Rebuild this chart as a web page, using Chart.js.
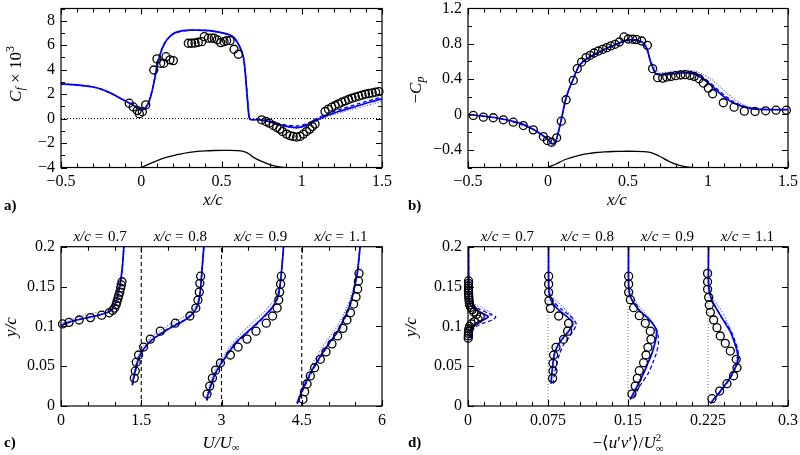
<!DOCTYPE html>
<html><head><meta charset="utf-8">
<script src="https://cdn.jsdelivr.net/npm/chart.js@4.4.1/dist/chart.umd.min.js"></script>
<style>
html,body{margin:0;padding:0;background:#fff;}
#wrap{position:relative;width:800px;height:455px;overflow:hidden;}
canvas{position:absolute;left:0;top:0;}
</style></head><body>
<div id="wrap">
<canvas id="ca" width="800" height="455"></canvas>
<canvas id="cb" width="800" height="455"></canvas>
<canvas id="cc" width="800" height="455"></canvas>
<canvas id="cd" width="800" height="455"></canvas>
</div>
<script>
// ---------------- DATA ----------------
// panel a: skin friction Cf x 10^3 vs x/c
const cfExp = [[-0.075,1.26],[-0.05,0.95],[-0.025,0.66],[-0.012,0.4],[0.007,0.56],[0.028,1.12],
 [0.078,3.97],[0.098,4.88],[0.121,4.52],[0.14,4.52],[0.154,5.06],[0.179,4.8],[0.2,4.74],
 [0.293,6.16],[0.314,6.16],[0.335,6.18],[0.355,6.24],[0.377,6.29],[0.393,6.7],[0.418,6.57],[0.439,6.57],[0.455,6.57],[0.474,6.44],[0.495,6.21],[0.516,6.29],[0.532,6.37],[0.553,6.37],[0.578,5.67],[0.605,5.26],
 [0.75,-0.1],[0.777,-0.24],[0.798,-0.37],[0.823,-0.57],[0.844,-0.73],[0.864,-0.86],[0.88,-1.06],[0.906,-1.27],[0.927,-1.4],[0.947,-1.46],[0.968,-1.51],[0.989,-1.46],[1.01,-1.27],[1.03,-1.06],[1.05,-0.86],[1.066,-0.65],[1.083,-0.45],
 [1.145,0.58],[1.166,0.77],[1.187,0.93],[1.208,1.07],[1.229,1.2],[1.25,1.34],[1.271,1.45],[1.292,1.56],[1.313,1.67],[1.334,1.75],[1.355,1.83],[1.376,1.91],[1.397,2.0],[1.418,2.05],[1.439,2.1],[1.46,2.16],[1.481,2.21]];
const cfSolid = [[-0.5,2.84],[-0.4,2.76],[-0.3,2.58],[-0.25,2.42],[-0.2,2.15],[-0.15,1.8],[-0.1,1.45],[-0.05,1.1],[-0.02,0.85],[0,0.72],[0.02,0.8],[0.04,1.15],[0.06,1.85],[0.08,3.0],[0.1,4.4],[0.12,5.35],[0.14,6.0],[0.16,6.45],[0.2,6.95],[0.25,7.17],[0.3,7.23],[0.35,7.24],[0.4,7.21],[0.45,7.15],[0.5,7.03],[0.55,6.85],[0.58,6.6],[0.6,6.2],[0.62,5.7],[0.635,5.1],[0.645,4.2],[0.655,2.6],[0.665,1.0],[0.672,0.1],[0.68,-0.08],[0.74,-0.1],[0.8,-0.25],[0.85,-0.45],[0.9,-0.62],[0.95,-0.72],[0.98,-0.73],[1.02,-0.58],[1.06,-0.35],[1.1,-0.08],[1.15,0.22],[1.2,0.45],[1.25,0.65],[1.3,0.85],[1.35,1.05],[1.4,1.25],[1.45,1.43],[1.5,1.62]];
const cfDashed = [[-0.5,2.84],[-0.3,2.6],[-0.2,2.12],[-0.1,1.46],[-0.05,1.1],[0,0.74],[0.02,0.82],[0.04,1.17],[0.06,1.9],[0.08,3.05],[0.1,4.45],[0.12,5.4],[0.14,6.02],[0.16,6.45],[0.2,6.93],[0.25,7.15],[0.3,7.21],[0.4,7.2],[0.5,7.02],[0.55,6.84],[0.58,6.6],[0.6,6.22],[0.62,5.72],[0.635,5.15],[0.645,4.3],[0.655,2.7],[0.665,1.1],[0.672,0.15],[0.68,-0.06],[0.74,-0.08],[0.8,-0.2],[0.85,-0.38],[0.9,-0.53],[0.95,-0.6],[0.98,-0.6],[1.02,-0.46],[1.06,-0.22],[1.1,0.05],[1.15,0.35],[1.2,0.58],[1.25,0.8],[1.3,1.0],[1.35,1.2],[1.4,1.4],[1.45,1.58],[1.5,1.76]];
const cfDotted = [[-0.5,2.82],[-0.3,2.56],[-0.2,2.08],[-0.1,1.42],[-0.05,1.06],[0,0.7],[0.02,0.78],[0.04,1.12],[0.06,1.8],[0.08,2.95],[0.1,4.3],[0.12,5.3],[0.14,5.95],[0.16,6.4],[0.2,6.9],[0.25,7.12],[0.3,7.2],[0.4,7.18],[0.5,7.0],[0.55,6.8],[0.58,6.55],[0.6,6.15],[0.62,5.6],[0.635,4.95],[0.645,4.0],[0.66,2.4],[0.668,0.9],[0.676,0.05],[0.685,-0.1],[0.74,-0.12],[0.8,-0.27],[0.85,-0.5],[0.9,-0.68],[0.95,-0.77],[0.98,-0.78],[1.02,-0.66],[1.06,-0.45],[1.1,-0.18],[1.15,0.12],[1.2,0.33],[1.25,0.52],[1.3,0.7],[1.35,0.88],[1.4,1.05],[1.45,1.22],[1.5,1.4]];
const cfHump = [[-0.03,-4.15],[0,-4.0],[0.05,-3.7],[0.1,-3.43],[0.15,-3.2],[0.2,-3.02],[0.25,-2.88],[0.3,-2.77],[0.35,-2.69],[0.4,-2.64],[0.45,-2.61],[0.5,-2.6],[0.55,-2.6],[0.6,-2.62],[0.63,-2.67],[0.66,-2.8],[0.68,-2.97],[0.7,-3.17],[0.75,-3.5],[0.8,-3.76],[0.85,-3.92],[0.9,-4.02],[0.95,-4.08]];
const cfZero = [[-0.5,0],[1.5,0]];

// panel b: -Cp vs x/c
const cpExp = [[-0.467,-0.011],[-0.404,-0.03],[-0.342,-0.037],[-0.279,-0.06],[-0.217,-0.087],[-0.154,-0.125],[-0.092,-0.174],[-0.029,-0.25],[-0.004,-0.295],[0.023,-0.314],[0.054,-0.264],[0.083,-0.076],[0.113,0.167],[0.158,0.386],[0.183,0.519],[0.21,0.594],[0.238,0.644],[0.263,0.67],[0.288,0.696],[0.315,0.719],[0.342,0.738],[0.367,0.757],[0.392,0.776],[0.419,0.795],[0.446,0.821],[0.475,0.878],[0.502,0.855],[0.529,0.852],[0.554,0.848],[0.585,0.832],[0.621,0.783],[0.654,0.519],[0.685,0.417],[0.717,0.412],[0.742,0.424],[0.769,0.432],[0.798,0.44],[0.829,0.447],[0.858,0.451],[0.888,0.443],[0.914,0.432],[0.944,0.405],[0.971,0.356],[1.002,0.299],[1.029,0.235],[1.096,0.133],[1.163,0.083],[1.227,0.038],[1.294,0.034],[1.36,0.042],[1.425,0.049],[1.49,0.049]];
const cpSolid = [[-0.5,0.0],[-0.4,-0.02],[-0.3,-0.045],[-0.2,-0.085],[-0.15,-0.115],[-0.1,-0.16],[-0.05,-0.215],[0,-0.285],[0.02,-0.325],[0.035,-0.33],[0.05,-0.3],[0.07,-0.16],[0.09,0.0],[0.11,0.17],[0.13,0.28],[0.16,0.41],[0.19,0.54],[0.22,0.6],[0.26,0.65],[0.3,0.69],[0.35,0.735],[0.4,0.775],[0.45,0.815],[0.5,0.845],[0.55,0.845],[0.59,0.82],[0.62,0.74],[0.64,0.6],[0.655,0.53],[0.67,0.47],[0.69,0.45],[0.75,0.455],[0.8,0.465],[0.85,0.475],[0.9,0.465],[0.95,0.425],[1.0,0.36],[1.05,0.28],[1.1,0.2],[1.15,0.14],[1.2,0.1],[1.25,0.075],[1.3,0.06],[1.4,0.055],[1.5,0.055]];
const cpDashed = [[-0.5,0.0],[-0.3,-0.045],[-0.1,-0.16],[0,-0.285],[0.02,-0.325],[0.035,-0.33],[0.05,-0.3],[0.07,-0.16],[0.09,0.0],[0.11,0.17],[0.13,0.28],[0.16,0.41],[0.19,0.54],[0.22,0.6],[0.3,0.69],[0.4,0.775],[0.5,0.84],[0.55,0.838],[0.59,0.81],[0.62,0.73],[0.64,0.6],[0.655,0.53],[0.67,0.475],[0.69,0.455],[0.75,0.46],[0.8,0.472],[0.85,0.483],[0.9,0.475],[0.95,0.44],[1.0,0.38],[1.05,0.3],[1.1,0.22],[1.15,0.155],[1.2,0.11],[1.25,0.08],[1.3,0.062],[1.4,0.055],[1.5,0.055]];
const cpDotted = [[-0.5,0.0],[-0.3,-0.045],[-0.1,-0.16],[0,-0.28],[0.02,-0.32],[0.035,-0.325],[0.05,-0.3],[0.07,-0.16],[0.09,0.0],[0.11,0.17],[0.13,0.28],[0.16,0.41],[0.19,0.54],[0.22,0.6],[0.3,0.685],[0.4,0.77],[0.5,0.83],[0.55,0.82],[0.59,0.78],[0.62,0.71],[0.64,0.62],[0.66,0.55],[0.68,0.49],[0.7,0.475],[0.75,0.48],[0.8,0.49],[0.87,0.5],[0.92,0.49],[0.97,0.455],[1.02,0.4],[1.07,0.32],[1.12,0.24],[1.17,0.165],[1.22,0.11],[1.28,0.075],[1.35,0.06],[1.5,0.055]];
const cpHump = [[-0.02,-0.62],[0,-0.6],[0.05,-0.56],[0.1,-0.515],[0.15,-0.485],[0.2,-0.46],[0.25,-0.443],[0.3,-0.43],[0.35,-0.424],[0.4,-0.419],[0.45,-0.417],[0.5,-0.416],[0.55,-0.417],[0.6,-0.42],[0.63,-0.426],[0.66,-0.443],[0.7,-0.475],[0.75,-0.525],[0.8,-0.565],[0.85,-0.588],[0.9,-0.6],[0.95,-0.61]];

// stations, offsets (panel c: U/Uinf shifted by 1.5; panel d: -<u'v'> shifted by 0.075)
const stations = ['0.7','0.8','0.9','1.1'];
const uOffsets = [0, 1.5, 3, 4.5];
const uvOffsets = [0, 0.075, 0.15, 0.225];

// panel c: plotted (shifted) U/Uinf vs y/c
const uExp07 = [[0.03,0.103],[0.15,0.105],[0.34,0.108],[0.55,0.111],[0.76,0.114],[0.9,0.117],[0.965,0.12],[1.0,0.123],[1.03,0.127],[1.046,0.131],[1.065,0.135],[1.08,0.139],[1.1,0.143],[1.115,0.148],[1.127,0.152],[1.14,0.156]];
const uExp08 = [[1.37,0.035],[1.389,0.044],[1.407,0.055],[1.45,0.064],[1.544,0.074],[1.67,0.084],[1.856,0.094],[2.136,0.104],[2.41,0.113],[2.52,0.123],[2.56,0.133],[2.585,0.143],[2.595,0.154],[2.61,0.163]];
const uExp09 = [[2.73,0.015],[2.78,0.025],[2.83,0.035],[2.89,0.045],[2.98,0.054],[3.165,0.064],[3.31,0.074],[3.477,0.084],[3.645,0.094],[3.837,0.104],[3.955,0.113],[4.04,0.123],[4.07,0.133],[4.086,0.143],[4.105,0.153],[4.118,0.163]];
const uExp11 = [[4.523,0.0084],[4.554,0.018],[4.6,0.0276],[4.66,0.0377],[4.74,0.048],[4.847,0.0586],[4.953,0.068],[5.065,0.078],[5.17,0.088],[5.27,0.0975],[5.345,0.108],[5.41,0.117],[5.47,0.128],[5.514,0.137],[5.545,0.147],[5.56,0.157],[5.57,0.1665]];
const uSolid07 = [[0,0.101],[0.1,0.104],[0.3,0.108],[0.5,0.111],[0.7,0.114],[0.85,0.117],[0.95,0.121],[1.02,0.13],[1.07,0.142],[1.11,0.155],[1.14,0.17],[1.16,0.185],[1.175,0.2]];
const uDashed07 = [[0,0.101],[0.1,0.104],[0.3,0.108],[0.5,0.111],[0.7,0.114],[0.85,0.117],[0.95,0.12],[1.02,0.129],[1.07,0.141],[1.11,0.155],[1.14,0.17],[1.16,0.185],[1.175,0.2]];
const uDotted07 = [[0,0.102],[0.1,0.106],[0.3,0.111],[0.5,0.115],[0.7,0.118],[0.85,0.12],[0.95,0.123],[1.02,0.131],[1.07,0.143],[1.11,0.156],[1.14,0.17],[1.16,0.185],[1.175,0.2]];
const uSolid08 = [[1.33,0.026],[1.38,0.042],[1.42,0.053],[1.47,0.063],[1.55,0.072],[1.7,0.083],[1.9,0.092],[2.1,0.1],[2.3,0.107],[2.45,0.115],[2.54,0.124],[2.58,0.133],[2.61,0.148],[2.635,0.17],[2.67,0.2]];
const uDashed08 = [[1.34,0.027],[1.39,0.043],[1.43,0.054],[1.48,0.064],[1.56,0.073],[1.71,0.084],[1.9,0.093],[2.1,0.101],[2.3,0.108],[2.45,0.116],[2.54,0.125],[2.58,0.134],[2.61,0.149],[2.635,0.17],[2.67,0.2]];
const uDotted08 = [[1.33,0.029],[1.37,0.045],[1.41,0.057],[1.47,0.067],[1.55,0.076],[1.7,0.087],[1.9,0.097],[2.1,0.105],[2.3,0.112],[2.45,0.12],[2.53,0.128],[2.58,0.137],[2.61,0.15],[2.635,0.17],[2.67,0.2]];
const uSolid09 = [[2.72,0.007],[2.77,0.02],[2.83,0.032],[2.9,0.043],[3.0,0.054],[3.12,0.066],[3.26,0.079],[3.45,0.091],[3.63,0.102],[3.8,0.113],[3.95,0.124],[4.04,0.135],[4.08,0.146],[4.11,0.16],[4.13,0.175],[4.16,0.2]];
const uDashed09 = [[2.73,0.007],[2.78,0.02],[2.84,0.032],[2.91,0.043],[3.01,0.054],[3.13,0.066],[3.28,0.079],[3.47,0.091],[3.65,0.102],[3.82,0.113],[3.96,0.124],[4.05,0.135],[4.09,0.146],[4.11,0.16],[4.13,0.175],[4.16,0.2]];
const uDotted09 = [[2.72,0.01],[2.77,0.024],[2.83,0.037],[2.9,0.048],[3.0,0.059],[3.12,0.071],[3.26,0.083],[3.43,0.095],[3.6,0.106],[3.78,0.117],[3.93,0.128],[4.03,0.138],[4.08,0.149],[4.11,0.162],[4.13,0.177],[4.16,0.2]];
const uSolid11 = [[4.41,0.003],[4.47,0.013],[4.535,0.024],[4.61,0.034],[4.69,0.045],[4.78,0.055],[4.88,0.066],[4.99,0.077],[5.1,0.087],[5.2,0.097],[5.28,0.108],[5.35,0.118],[5.41,0.129],[5.46,0.141],[5.5,0.154],[5.54,0.167],[5.56,0.179],[5.59,0.2]];
const uDashed11 = [[4.42,0.003],[4.48,0.013],[4.55,0.024],[4.625,0.034],[4.705,0.045],[4.795,0.055],[4.895,0.066],[5.0,0.077],[5.11,0.087],[5.21,0.097],[5.29,0.108],[5.36,0.118],[5.42,0.129],[5.465,0.141],[5.5,0.154],[5.54,0.167],[5.56,0.179],[5.59,0.2]];
const uDotted11 = [[4.41,0.005],[4.46,0.015],[4.52,0.026],[4.59,0.037],[4.66,0.048],[4.75,0.059],[4.85,0.07],[4.96,0.081],[5.07,0.091],[5.17,0.101],[5.26,0.112],[5.33,0.122],[5.4,0.133],[5.45,0.145],[5.5,0.157],[5.54,0.17],[5.56,0.182],[5.59,0.2]];

// panel d: plotted (shifted) -<u'v'>/Uinf^2 vs y/c
const uvExp07 = [[0.0005,0.157],[0.0005,0.154],[0.0005,0.151],[0.0005,0.148],[0.0005,0.145],[0.0005,0.142],[0.0007,0.139],[0.0008,0.136],[0.001,0.133],[0.0012,0.13],[0.0015,0.127],[0.0025,0.124],[0.004,0.121],[0.0055,0.118],[0.008,0.115],[0.0115,0.112],[0.0095,0.109],[0.006,0.106],[0.003,0.103],[0.0015,0.1],[0.0008,0.097],[0.0005,0.094],[0.0004,0.091],[0.0003,0.088],[0.0002,0.085]];
const uvExp08 = [[0.0756,0.163],[0.0756,0.153],[0.0756,0.1427],[0.0759,0.132],[0.0772,0.1226],[0.085,0.113],[0.0943,0.1038],[0.0934,0.094],[0.0896,0.0837],[0.0825,0.0737],[0.0803,0.064],[0.0797,0.0536],[0.0797,0.044],[0.0793,0.0347]];
const uvExp09 = [[0.1506,0.163],[0.1506,0.153],[0.1506,0.1427],[0.1522,0.1335],[0.1553,0.1234],[0.1606,0.1134],[0.1662,0.1038],[0.1709,0.094],[0.1715,0.0837],[0.1687,0.0737],[0.1669,0.064],[0.1646,0.0544],[0.1606,0.0443],[0.1587,0.0347],[0.1568,0.025],[0.1537,0.015]];
const uvExp11 = [[0.2246,0.1665],[0.2246,0.156],[0.2246,0.1465],[0.2256,0.1364],[0.2262,0.1268],[0.2272,0.1176],[0.2303,0.108],[0.2334,0.0983],[0.2365,0.0879],[0.2412,0.0787],[0.2459,0.069],[0.2515,0.0586],[0.2522,0.048],[0.249,0.038],[0.2428,0.028],[0.2359,0.0188],[0.2287,0.0092]];
const uvSolid07 = [[0.0005,0.2],[0.0008,0.14],[0.0015,0.13],[0.004,0.124],[0.01,0.119],[0.017,0.114],[0.019,0.112],[0.016,0.109],[0.009,0.105],[0.004,0.1],[0.002,0.095],[0.0015,0.09],[0.002,0.085]];
const uvDashed07 = [[0.0005,0.2],[0.001,0.135],[0.003,0.128],[0.01,0.122],[0.02,0.116],[0.026,0.112],[0.023,0.108],[0.014,0.104],[0.007,0.099],[0.004,0.094],[0.004,0.088],[0.004,0.085]];
const uvDotted07 = [[0.0005,0.2],[0.001,0.138],[0.004,0.13],[0.012,0.124],[0.019,0.119],[0.022,0.116],[0.019,0.112],[0.011,0.107],[0.005,0.102],[0.003,0.096],[0.002,0.09],[0.002,0.086]];
const uvSolid08 = [[0.0755,0.2],[0.0756,0.15],[0.0765,0.138],[0.079,0.13],[0.084,0.122],[0.091,0.114],[0.097,0.107],[0.098,0.102],[0.095,0.095],[0.09,0.087],[0.085,0.078],[0.081,0.066],[0.0795,0.052],[0.0785,0.04],[0.078,0.028]];
const uvDashed08 = [[0.0755,0.2],[0.0757,0.15],[0.077,0.138],[0.081,0.13],[0.087,0.122],[0.095,0.114],[0.1,0.107],[0.1015,0.102],[0.099,0.095],[0.095,0.087],[0.09,0.078],[0.086,0.066],[0.083,0.052],[0.081,0.04],[0.08,0.028]];
const uvDotted08 = [[0.0755,0.2],[0.0758,0.15],[0.078,0.14],[0.083,0.132],[0.089,0.124],[0.095,0.116],[0.099,0.108],[0.099,0.102],[0.096,0.095],[0.091,0.087],[0.086,0.078],[0.082,0.066],[0.08,0.052],[0.079,0.04],[0.078,0.03]];
const uvSolid09 = [[0.1505,0.2],[0.1506,0.15],[0.152,0.138],[0.156,0.128],[0.162,0.118],[0.169,0.11],[0.175,0.1],[0.177,0.093],[0.176,0.083],[0.1725,0.066],[0.169,0.055],[0.166,0.045],[0.16,0.0285],[0.152,0.008]];
const uvDashed09 = [[0.1505,0.2],[0.1506,0.15],[0.152,0.138],[0.156,0.128],[0.162,0.118],[0.17,0.108],[0.176,0.098],[0.178,0.09],[0.1785,0.078],[0.1765,0.066],[0.1735,0.055],[0.169,0.041],[0.162,0.027],[0.154,0.008]];
const uvDotted09 = [[0.1505,0.2],[0.1508,0.15],[0.154,0.138],[0.159,0.128],[0.165,0.118],[0.171,0.108],[0.175,0.098],[0.176,0.09],[0.175,0.08],[0.172,0.066],[0.168,0.055],[0.164,0.043],[0.159,0.028],[0.152,0.008]];
const uvSolid11 = [[0.2255,0.2],[0.2256,0.15],[0.228,0.135],[0.2318,0.1247],[0.237,0.113],[0.2412,0.1038],[0.246,0.093],[0.249,0.083],[0.2515,0.073],[0.2531,0.064],[0.2525,0.055],[0.2495,0.045],[0.2443,0.0326],[0.235,0.016],[0.2272,0.0034]];
const uvDashed11 = [[0.2255,0.2],[0.2256,0.15],[0.228,0.135],[0.232,0.1247],[0.237,0.113],[0.242,0.1038],[0.247,0.093],[0.25,0.083],[0.2525,0.073],[0.2535,0.064],[0.253,0.055],[0.25,0.045],[0.245,0.033],[0.2355,0.016],[0.2275,0.003]];
const uvDotted11 = [[0.2255,0.2],[0.226,0.15],[0.23,0.135],[0.235,0.125],[0.24,0.114],[0.2435,0.104],[0.247,0.093],[0.249,0.083],[0.251,0.073],[0.252,0.064],[0.251,0.055],[0.249,0.045],[0.2445,0.033],[0.235,0.016],[0.227,0.003]];

// tick values and labels
const aXTicks = [-0.5,0,0.5,1,1.5], aXLabels = ['\u22120.5','0','0.5','1','1.5'];
const aYTicks = [-4,-2,0,2,4,6,8], aYLabels = ['\u22124','\u22122','0','2','4','6','8'];
const bYTicks = [-0.4,0,0.4,0.8,1.2], bYLabels = ['\u22120.4','0','0.4','0.8','1.2'];
const cXTicks = [0,1.5,3,4.5,6], cXLabels = ['0','1.5','3','4.5','6'];
const cYTicks = [0,0.05,0.1,0.15,0.2], cYLabels = ['0','0.05','0.1','0.15','0.2'];
const dXTicks = [0,0.075,0.15,0.225,0.3], dXLabels = ['0','0.075','0.15','0.225','0.3'];

// ---------------- RENDERING ----------------
const FAM = '"Liberation Serif", "DejaVu Serif", serif';
Chart.defaults.font.family = FAM;
Chart.defaults.font.size = 16;
Chart.defaults.color = '#000';
const BLUE = 'rgb(0,0,250)';

function P(arr){ return arr.map(p=>({x:p[0], y:p[1]})); }
function circles(arr){ return {data:P(arr), showLine:false, pointStyle:'circle', pointRadius:4, pointHoverRadius:4,
  pointBorderColor:'#000', pointBackgroundColor:'rgba(0,0,0,0)', pointBorderWidth:1.3, borderColor:'#000', order:0, clip:8}; }
function blue(arr, kind){
  const d = {data:P(arr), showLine:true, pointRadius:0, borderColor:BLUE, fill:false, tension:0.25, clip:0, order:2};
  if(kind==='solid'){ d.borderWidth=1.7; d.order=1; }
  else if(kind==='dashed'){ d.borderWidth=1.3; d.borderDash=[4,2.5]; }
  else { d.borderWidth=1.2; d.borderDash=[1,1.6]; d.borderColor='rgba(50,50,255,0.85)'; }
  return d;
}
function ref(arr, dash, color, w, tension){ return {data:P(arr), showLine:true, pointRadius:0, borderColor:color, borderWidth:w, borderDash:dash, tension:tension||0, clip:0, order:4}; }

function axis(min, max, ticks, labels, isX, fit, pad){
  return { type:'linear', min:min, max:max,
    grid:{display:false, drawTicks:false}, border:{display:false},
    ticks:{autoSkip:false, maxRotation:0, minRotation:0, padding:pad, color:'#000', font:{size:16, family:FAM},
      callback:(v,i)=>labels[i]},
    afterBuildTicks: s=>{ s.ticks = ticks.map(v=>({value:v})); },
    afterFit: s=>{ if(isX) s.height=fit; else s.width=fit; s.paddingLeft=0; s.paddingRight=0; s.paddingTop=0; s.paddingBottom=0; }
  };
}

function framePlugin(cfg){
  return { id:'frame', afterDatasetsDraw(chart){
    const {ctx, chartArea:a, scales:{x,y}} = chart;
    ctx.save(); ctx.strokeStyle='#000'; ctx.lineWidth=1.1; ctx.setLineDash([]);
    const isMaj=(list,v)=>list.some(m=>Math.abs(m-v)<1e-7);
    const nx=Math.round((x.max-x.min)/cfg.xStep);
    ctx.beginPath();
    for(let i=0;i<=nx;i++){ const v=x.min+i*cfg.xStep; const L=isMaj(cfg.xMaj,v)?6:4; const px=Math.round(x.getPixelForValue(v))+0.5;
      ctx.moveTo(px,a.bottom); ctx.lineTo(px,a.bottom-L); ctx.moveTo(px,a.top); ctx.lineTo(px,a.top+L); }
    const ny=Math.round((y.max-y.min)/cfg.yStep);
    for(let i=0;i<=ny;i++){ const v=y.min+i*cfg.yStep; const L=isMaj(cfg.yMaj,v)?6:4; const py=Math.round(y.getPixelForValue(v))+0.5;
      ctx.moveTo(a.left,py); ctx.lineTo(a.left+L,py); ctx.moveTo(a.right,py); ctx.lineTo(a.right-L,py); }
    ctx.stroke();
    ctx.lineWidth=1.2;
    ctx.strokeRect(a.left,a.top,a.right-a.left,a.bottom-a.top);
    ctx.restore();
  }};
}
function fontOf(r){ return (r.i?'italic ':'')+(r.b?'bold ':'')+(r.s||16)+'px '+FAM; }
function drawRich(ctx, it){
  ctx.save(); ctx.fillStyle='#000'; ctx.textBaseline='alphabetic'; ctx.textAlign='left';
  const ws=[]; let w=0;
  it.runs.forEach(r=>{ ctx.font=fontOf(r); const m=ctx.measureText(r.t).width; ws.push(m); if(!r.na) w+=m+(r.sp||0); });
  ctx.translate(it.x, it.y); if(it.rot) ctx.rotate(it.rot);
  let cx = it.align==='left' ? 0 : -w/2;
  it.runs.forEach((r,k)=>{ ctx.font=fontOf(r); ctx.fillText(r.t, cx, r.dy||0); if(!r.na) cx+=ws[k]+(r.sp||0); });
  ctx.restore();
}
function richPlugin(items, headers){
  return { id:'rich', afterDraw(chart){
    const ctx=chart.ctx;
    items.forEach(it=>drawRich(ctx,it));
    if(headers){
      headers.offsets.forEach((o,k)=>{
        const px=chart.scales.x.getPixelForValue(o+headers.shift);
        drawRich(ctx,{x:px, y:headers.y, runs:[{t:'x/c',i:1,s:15},{t:' = ',s:15,sp:1},{t:stations[k],s:15}]});
      });
    }
  }};
}

function panel(id, o){
  new Chart(document.getElementById(id), {
    type:'scatter',
    data:{datasets:o.datasets},
    options:{ responsive:false, animation:false, devicePixelRatio:1, events:[],
      layout:{padding:o.pad},
      plugins:{legend:{display:false}, tooltip:{enabled:false}},
      scales:{ x:o.x, y:o.y } },
    plugins:[framePlugin(o.frame), richPlugin(o.texts, o.headers)]
  });
}
const R = -Math.PI/2;

// panel a
panel('ca', {
  pad:{left:11, right:418, top:8.5, bottom:247.5},
  x: axis(-0.5,1.5,aXTicks,aXLabels,true,40,5),
  y: axis(-4,9,aYTicks,aYLabels,false,50,6),
  frame:{xStep:0.1, yStep:1, xMaj:aXTicks, yMaj:aYTicks},
  datasets:[ circles(cfExp), blue(cfSolid,'solid'), blue(cfDashed,'dashed'), blue(cfDotted,'dotted'),
    ref(cfHump,[], '#000', 1.3, 0.3), ref(cfZero,[1,2], '#000', 1) ],
  texts:[
    {x:21, y:74, rot:R, runs:[{t:'C',i:1,s:17},{t:'f',i:1,s:12,dy:3},{t:' \u00d7 10',s:17},{t:'3',s:12,dy:-7}]},
    {x:213, y:205, runs:[{t:'x/c',i:1,s:17}]},
    {x:4, y:210, align:'left', runs:[{t:'a)',b:1,s:15}]}
  ]
});
// panel b
panel('cb', {
  pad:{left:418, right:12, top:8.5, bottom:247.5},
  x: axis(-0.5,1.5,aXTicks,aXLabels,true,40,5),
  y: axis(-0.6,1.2,bYTicks,bYLabels,false,50,6),
  frame:{xStep:0.1, yStep:0.2, xMaj:aXTicks, yMaj:bYTicks},
  datasets:[ circles(cpExp), blue(cpSolid,'solid'), blue(cpDashed,'dashed'), blue(cpDotted,'dotted'),
    ref(cpHump,[], '#000', 1.3, 0.3) ],
  texts:[
    {x:421, y:90, rot:R, runs:[{t:'\u2212',s:17},{t:'C',i:1,s:17},{t:'p',i:1,s:12,dy:3}]},
    {x:617, y:205, runs:[{t:'x/c',i:1,s:17}]},
    {x:408, y:210, align:'left', runs:[{t:'b)',b:1,s:15}]}
  ]
});
// panel c
const cRefs = uOffsets.slice(1).map(o=>ref([[o,0],[o,0.2]],[4,3],'#000',1.1));
panel('cc', {
  pad:{left:11, right:418, top:246.7, bottom:9},
  x: axis(0,6,cXTicks,cXLabels,true,40,5),
  y: axis(0,0.2,cYTicks,cYLabels,false,50,6),
  frame:{xStep:0.5, yStep:0.05, xMaj:cXTicks, yMaj:cYTicks},
  datasets:[ circles(uExp07), circles(uExp08), circles(uExp09), circles(uExp11),
    blue(uSolid07,'solid'), blue(uDashed07,'dashed'), blue(uDotted07,'dotted'),
    blue(uSolid08,'solid'), blue(uDashed08,'dashed'), blue(uDotted08,'dotted'),
    blue(uSolid09,'solid'), blue(uDashed09,'dashed'), blue(uDotted09,'dotted'),
    blue(uSolid11,'solid'), blue(uDashed11,'dashed'), blue(uDotted11,'dotted') ].concat(cRefs),
  headers:{offsets:uOffsets, shift:0.73, y:241},
  texts:[
    {x:16, y:327, rot:R, runs:[{t:'y/c',i:1,s:17}]},
    {x:221, y:448, runs:[{t:'U/U',i:1,s:17},{t:'\u221e',s:11,dy:3}]},
    {x:4, y:447, align:'left', runs:[{t:'c)',b:1,s:15}]}
  ]
});
// panel d
const dRefs = uvOffsets.slice(1).map(o=>ref([[o,0],[o,0.2]],[1,2],'#777',1));
panel('cd', {
  pad:{left:418, right:12, top:246.7, bottom:9},
  x: axis(0,0.3,dXTicks,dXLabels,true,40,5),
  y: axis(0,0.2,cYTicks,cYLabels,false,50,6),
  frame:{xStep:0.015, yStep:0.05, xMaj:dXTicks, yMaj:cYTicks},
  datasets:[ circles(uvExp07), circles(uvExp08), circles(uvExp09), circles(uvExp11),
    blue(uvSolid07,'solid'), blue(uvDashed07,'dashed'), blue(uvDotted07,'dotted'),
    blue(uvSolid08,'solid'), blue(uvDashed08,'dashed'), blue(uvDotted08,'dotted'),
    blue(uvSolid09,'solid'), blue(uvDashed09,'dashed'), blue(uvDotted09,'dotted'),
    blue(uvSolid11,'solid'), blue(uvDashed11,'dashed'), blue(uvDotted11,'dotted') ].concat(dRefs),
  headers:{offsets:uvOffsets, shift:0.037, y:241},
  texts:[
    {x:416, y:327, rot:R, runs:[{t:'y/c',i:1,s:17}]},
    {x:628, y:448, runs:[{t:'\u2212\u27e8',s:17},{t:'u',i:1,s:17},{t:'\u2032',s:17},{t:'v',i:1,s:17},{t:'\u2032',s:17},{t:'\u27e9/',s:17},{t:'U',i:1,s:17},{t:'2',s:11,dy:-7,na:1},{t:'\u221e',s:11,dy:4}]},
    {x:408, y:447, align:'left', runs:[{t:'d)',b:1,s:15}]}
  ]
});
</script>
</body></html>
